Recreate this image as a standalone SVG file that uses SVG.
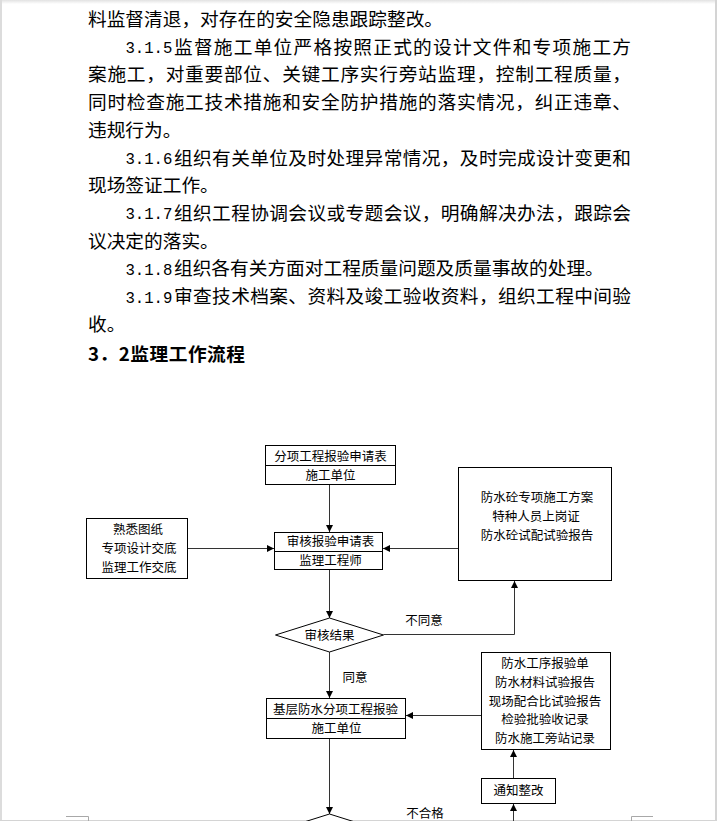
<svg xmlns="http://www.w3.org/2000/svg" width="717" height="821" viewBox="0 0 717 821">
<style>
.b{font-family:"Noto Sans CJK SC","Noto Sans CJK JP",sans-serif;font-size:18.7px;fill:#000}
.h{font-family:"Noto Sans CJK SC","Noto Sans CJK JP",sans-serif;font-size:18.7px;font-weight:bold;fill:#000}
.n{font-family:"Liberation Mono",monospace;font-size:17px;fill:#000}
.f{font-family:"Noto Sans CJK SC","Noto Sans CJK JP",sans-serif;font-size:12.5px;fill:#000;text-anchor:middle}
.box{fill:#fff;stroke:#000;stroke-width:1}
.div{stroke:#000;stroke-width:1}
.c{fill:none;stroke:#333;stroke-width:1}
.mark{fill:none;stroke:#a8a8a8;stroke-width:1}
</style>
<defs>
<marker id="ah" viewBox="0 0 8 8" markerWidth="7" markerHeight="7" refX="8" refY="4" orient="auto" markerUnits="userSpaceOnUse">
<path d="M0,0 L8,4 L0,8 z" fill="#000"/>
</marker>
<linearGradient id="tg" x1="0" y1="0" x2="0" y2="1">
<stop offset="0" stop-color="#e2e2e2"/>
<stop offset="1" stop-color="#ffffff"/>
</linearGradient>
</defs>
<rect x="0" y="0" width="717" height="821" fill="#fff"/>
<rect x="0" y="0" width="717" height="4" fill="url(#tg)"/>
<rect x="0" y="0" width="2" height="821" fill="#dcdcdc"/>
<rect x="715" y="0" width="2" height="821" fill="#d4d4d4"/>
<rect x="0" y="820" width="717" height="1" fill="#d4d4d4"/>
<path class="mark" d="M66,816.5 H88.5 V821 M631.5,821 V816.5 H653"/>

<g id="body-text">
<text class="b" x="88" y="26">料监督清退，对存在的安全隐患跟踪整改。</text>
<text class="n" x="125.4" y="53.2" textLength="47" lengthAdjust="spacingAndGlyphs">3.1.5</text>
<text class="b" x="174" y="53.7" textLength="457" lengthAdjust="spacing">监督施工单位严格按照正式的设计文件和专项施工方</text>
<text class="b" x="88" y="81.4" textLength="543" lengthAdjust="spacing">案施工，对重要部位、关键工序实行旁站监理，控制工程质量，</text>
<text class="b" x="88" y="109.1" textLength="543" lengthAdjust="spacing">同时检查施工技术措施和安全防护措施的落实情况，纠正违章、</text>
<text class="b" x="88" y="136.8">违规行为。</text>
<text class="n" x="125.4" y="164" textLength="47" lengthAdjust="spacingAndGlyphs">3.1.6</text>
<text class="b" x="174" y="164.5" textLength="457" lengthAdjust="spacing">组织有关单位及时处理异常情况，及时完成设计变更和</text>
<text class="b" x="88" y="192.2">现场签证工作。</text>
<text class="n" x="125.4" y="219.4" textLength="47" lengthAdjust="spacingAndGlyphs">3.1.7</text>
<text class="b" x="174" y="219.9" textLength="457" lengthAdjust="spacing">组织工程协调会议或专题会议，明确解决办法，跟踪会</text>
<text class="b" x="88" y="247.6">议决定的落实。</text>
<text class="n" x="125.4" y="274.8" textLength="47" lengthAdjust="spacingAndGlyphs">3.1.8</text>
<text class="b" x="174" y="275.3">组织各有关方面对工程质量问题及质量事故的处理。</text>
<text class="n" x="125.4" y="302.5" textLength="47" lengthAdjust="spacingAndGlyphs">3.1.9</text>
<text class="b" x="174" y="303" textLength="457" lengthAdjust="spacing">审查技术档案、资料及竣工验收资料，组织工程中间验</text>
<text class="b" x="88" y="330.7">收。</text>
<text class="h" x="88" y="361" textLength="157" lengthAdjust="spacing">3．2监理工作流程</text>
</g>

<g id="connectors">
<line class="c" x1="329.5" y1="485" x2="329.5" y2="532" marker-end="url(#ah)"/>
<line class="c" x1="187" y1="548.5" x2="274" y2="548.5" marker-end="url(#ah)"/>
<line class="c" x1="458" y1="548.5" x2="383" y2="548.5" marker-end="url(#ah)"/>
<line class="c" x1="329.5" y1="570" x2="329.5" y2="618" marker-end="url(#ah)"/>
<polyline class="c" points="383.5,634.5 514.5,634.5 514.5,581" marker-end="url(#ah)"/>
<line class="c" x1="329.5" y1="652" x2="329.5" y2="698" marker-end="url(#ah)"/>
<line class="c" x1="481" y1="715.5" x2="406" y2="715.5" marker-end="url(#ah)"/>
<line class="c" x1="329.5" y1="739" x2="329.5" y2="814" marker-end="url(#ah)"/>
<line class="c" x1="513.5" y1="778" x2="513.5" y2="750" marker-end="url(#ah)"/>
<line class="c" x1="513.5" y1="821" x2="513.5" y2="804" marker-end="url(#ah)"/>
<text class="f" x="424" y="624.7">不同意</text>
<text class="f" x="355" y="681.7">同意</text>
<text class="f" x="425" y="817.5">不合格</text>
</g>

<g id="n-fenxiang">
<rect class="box" x="265.5" y="445.5" width="130" height="39"/>
<line class="div" x1="265.5" y1="465.5" x2="395.5" y2="465.5"/>
<text class="f" x="330.5" y="460.5">分项工程报验申请表</text>
<text class="f" x="330.5" y="479.5">施工单位</text>
</g>

<g id="n-shenhe">
<rect class="box" x="274.5" y="532.5" width="108" height="37"/>
<line class="div" x1="274.5" y1="551.5" x2="382.5" y2="551.5"/>
<text class="f" x="330.5" y="546">审核报验申请表</text>
<text class="f" x="330.5" y="565">监理工程师</text>
</g>

<g id="n-shuxi">
<rect class="box" x="86.5" y="518.5" width="101" height="60"/>
<text class="f" x="138" y="533.5">熟悉图纸</text>
<text class="f" x="139" y="552.5">专项设计交底</text>
<text class="f" x="139" y="571.5">监理工作交底</text>
</g>

<g id="n-fangshui-fangan">
<rect class="box" x="458.5" y="467.5" width="153" height="113"/>
<text class="f" x="537" y="501.5">防水砼专项施工方案</text>
<text class="f" x="536" y="520.5">特种人员上岗证</text>
<text class="f" x="537" y="539.5">防水砼试配试验报告</text>
</g>

<g id="n-jieguo">
<polygon class="box" points="275.5,635 329.5,618 383.5,635 329.5,652"/>
<text class="f" x="329.5" y="639.7">审核结果</text>
</g>

<g id="n-jiceng">
<rect class="box" x="266.5" y="698.5" width="139" height="40"/>
<line class="div" x1="266.5" y1="718.5" x2="405.5" y2="718.5"/>
<text class="f" x="335.5" y="713.5">基层防水分项工程报验</text>
<text class="f" x="336.5" y="732.5">施工单位</text>
</g>

<g id="n-jilu">
<rect class="box" x="481.5" y="652.5" width="129" height="97"/>
<text class="f" x="545" y="667.5">防水工序报验单</text>
<text class="f" x="545" y="686.5">防水材料试验报告</text>
<text class="f" x="545" y="705.5">现场配合比试验报告</text>
<text class="f" x="545" y="723.5">检验批验收记录</text>
<text class="f" x="545" y="742.5">防水施工旁站记录</text>
</g>

<g id="n-tongzhi">
<rect class="box" x="481.5" y="778.5" width="74" height="25"/>
<text class="f" x="518.5" y="795">通知整改</text>
</g>

<g id="n-yanshou">
<polygon class="box" points="275.5,831 329.5,814 383.5,831 329.5,848"/>
</g>
</svg>
